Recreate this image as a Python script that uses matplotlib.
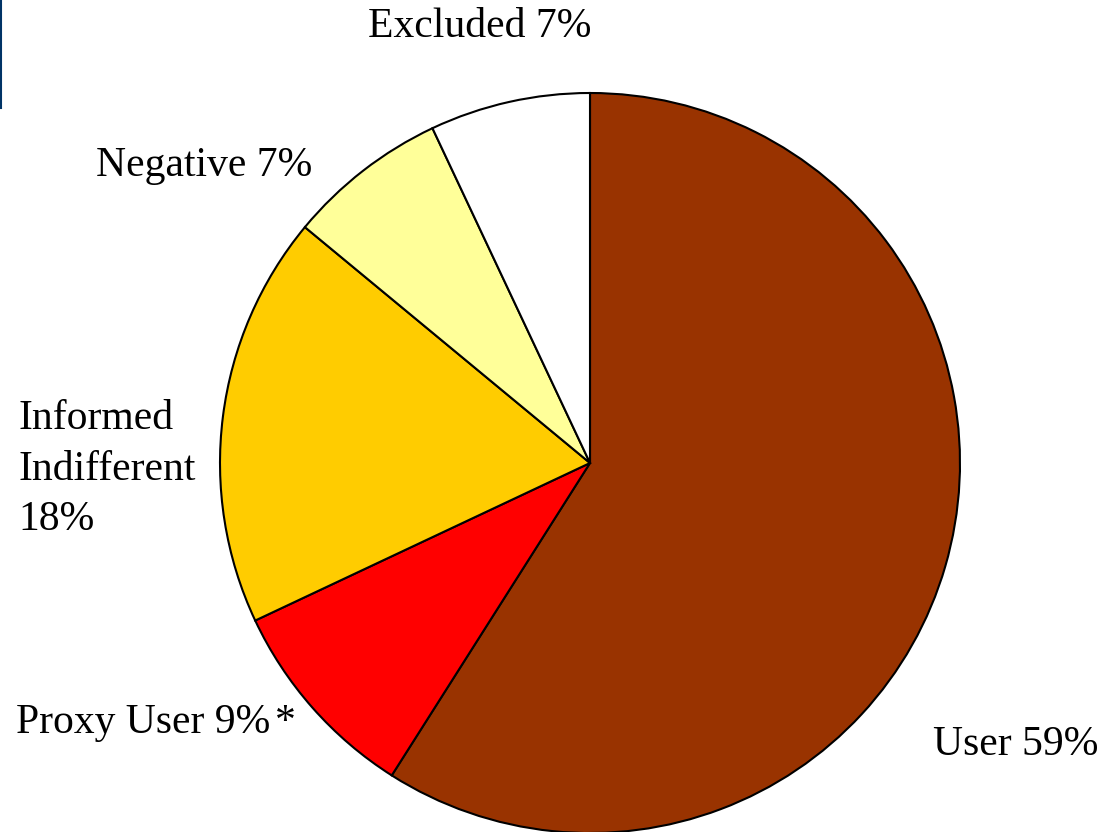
import matplotlib.pyplot as plt

# survey response breakdown
categories = ["User", "Proxy User", "Informed\nIndifferent", "Negative", "Excluded"]
shares = [59, 9, 18, 7, 7]
colors = ["#993300", "#FF0000", "#FFCC00", "#FFFF99", "#FFFFFF"]

W, H = 1102, 832

plt.rcParams["font.family"] = ["Liberation Serif", "DejaVu Serif"]

fig = plt.figure(figsize=(W / 100, H / 100), dpi=100)
ax = fig.add_axes([0, 0, 1, 1])

ax.pie(shares, colors=colors, startangle=90, counterclock=False,
       center=(590, H - 463), radius=370,
       wedgeprops=dict(edgecolor="black", linewidth=1.5))
ax.set_xlim(0, W)
ax.set_ylim(0, H)
ax.set_aspect("equal")
ax.axis("off")

# slide edge accent
ax.plot([1, 1], [H, H - 108], color="#003366", linewidth=1.5, clip_on=False)

fs = 30
labels = [
    ("Excluded 7%", 368, 37),
    ("Negative 7%", 96, 176),
    ("Informed\nIndifferent\n18%", 18, 530),
    ("Proxy User 9%", 16, 733),
    ("User 59%", 933, 755),
]
for text, x, y in labels:
    ax.text(x, H - y, text, fontsize=fs, ha="left", va="baseline",
            linespacing=1.4, color="black")

# footnote marker after the proxy label
ax.text(275, H - 733, "*", fontsize=fs, ha="left", va="baseline", color="black")

fig.savefig("out.png", dpi=100)
